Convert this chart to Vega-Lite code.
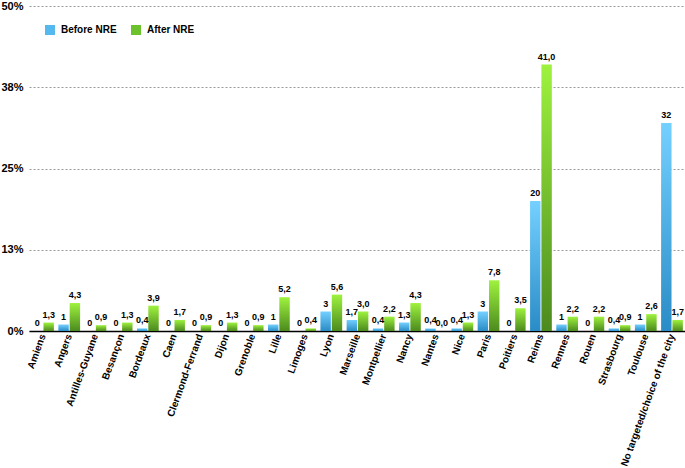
{
  "$schema": "https://vega.github.io/schema/vega-lite/v6.json",
  "width": 657,
  "height": 325,
  "padding": {"left": 0, "top": 0, "right": 0, "bottom": 0},
  "background": "white",
  "config": {
    "locale": {"number": {"decimal": ",", "thousands": " ", "grouping": [3], "currency": ["", " €"]}},
    "view": {"stroke": null},
    "font": "Liberation Sans"
  },
  "data": {"values": [
    {"city": "Amiens", "series": "Before NRE", "value": 0}, {"city": "Amiens", "series": "After NRE", "value": 1.3},
    {"city": "Angers", "series": "Before NRE", "value": 1}, {"city": "Angers", "series": "After NRE", "value": 4.3},
    {"city": "Antilles-Guyane", "series": "Before NRE", "value": 0}, {"city": "Antilles-Guyane", "series": "After NRE", "value": 0.9},
    {"city": "Besançon", "series": "Before NRE", "value": 0}, {"city": "Besançon", "series": "After NRE", "value": 1.3},
    {"city": "Bordeaux", "series": "Before NRE", "value": 0.4}, {"city": "Bordeaux", "series": "After NRE", "value": 3.9},
    {"city": "Caen", "series": "Before NRE", "value": 0}, {"city": "Caen", "series": "After NRE", "value": 1.7},
    {"city": "Clermond-Ferrand", "series": "Before NRE", "value": 0}, {"city": "Clermond-Ferrand", "series": "After NRE", "value": 0.9},
    {"city": "Dijon", "series": "Before NRE", "value": 0}, {"city": "Dijon", "series": "After NRE", "value": 1.3},
    {"city": "Grenoble", "series": "Before NRE", "value": 0}, {"city": "Grenoble", "series": "After NRE", "value": 0.9},
    {"city": "Lille", "series": "Before NRE", "value": 1}, {"city": "Lille", "series": "After NRE", "value": 5.2},
    {"city": "Limoges", "series": "Before NRE", "value": 0}, {"city": "Limoges", "series": "After NRE", "value": 0.4},
    {"city": "Lyon", "series": "Before NRE", "value": 3}, {"city": "Lyon", "series": "After NRE", "value": 5.6},
    {"city": "Marseille", "series": "Before NRE", "value": 1.7}, {"city": "Marseille", "series": "After NRE", "value": 3.0},
    {"city": "Montpellier", "series": "Before NRE", "value": 0.4}, {"city": "Montpellier", "series": "After NRE", "value": 2.2},
    {"city": "Nancy", "series": "Before NRE", "value": 1.3}, {"city": "Nancy", "series": "After NRE", "value": 4.3},
    {"city": "Nantes", "series": "Before NRE", "value": 0.4}, {"city": "Nantes", "series": "After NRE", "value": 0.0},
    {"city": "Nice", "series": "Before NRE", "value": 0.4}, {"city": "Nice", "series": "After NRE", "value": 1.3},
    {"city": "Paris", "series": "Before NRE", "value": 3}, {"city": "Paris", "series": "After NRE", "value": 7.8},
    {"city": "Poitiers", "series": "Before NRE", "value": 0}, {"city": "Poitiers", "series": "After NRE", "value": 3.5},
    {"city": "Reims", "series": "Before NRE", "value": 20}, {"city": "Reims", "series": "After NRE", "value": 41.0},
    {"city": "Rennes", "series": "Before NRE", "value": 1}, {"city": "Rennes", "series": "After NRE", "value": 2.2},
    {"city": "Rouen", "series": "Before NRE", "value": 0}, {"city": "Rouen", "series": "After NRE", "value": 2.2},
    {"city": "Strasbourg", "series": "Before NRE", "value": 0.4}, {"city": "Strasbourg", "series": "After NRE", "value": 0.9},
    {"city": "Toulouse", "series": "Before NRE", "value": 1}, {"city": "Toulouse", "series": "After NRE", "value": 2.6},
    {"city": "No targeted/choice of the city", "series": "Before NRE", "value": 32}, {"city": "No targeted/choice of the city", "series": "After NRE", "value": 1.7}
  ]},
  "encoding": {
    "x": {
      "field": "city", "type": "nominal", "sort": null,
      "scale": {"paddingInner": 0.17, "paddingOuter": 0.12},
      "axis": {
        "title": null, "labelAngle": -70, "labelFontSize": 10, "labelFontWeight": "bold",
        "labelColor": "#000", "ticks": false, "labelPadding": 3,
        "domainColor": "#000", "domainWidth": 1.5, "grid": false
      }
    },
    "xOffset": {"field": "series", "type": "nominal", "scale": {"domain": ["Before NRE", "After NRE"], "paddingInner": 0.08}},
    "y": {
      "field": "value", "type": "quantitative",
      "scale": {"domain": [0, 50]},
      "axis": {
        "title": null, "values": [0, 12.5, 25, 37.5, 50], "labelExpr": "round(datum.value) + '%'",
        "labelFontSize": 11, "labelFontWeight": "bold", "labelColor": "#000",
        "domain": false, "ticks": false, "labelPadding": 6,
        "gridColor": "#9a9a9a", "gridDash": [2, 2], "gridWidth": 1
      }
    }
  },
  "layer": [
    {
      "mark": {"type": "bar"},
      "encoding": {
        "color": {
          "condition": {
            "test": "datum.series === 'Before NRE'",
            "value": {"gradient": "linear", "x1": 0, "y1": 0, "x2": 0, "y2": 1,
              "stops": [{"offset": 0, "color": "#74D0FF"}, {"offset": 1, "color": "#2A8CC6"}]}
          },
          "value": {"gradient": "linear", "x1": 0, "y1": 0, "x2": 0, "y2": 1,
            "stops": [{"offset": 0, "color": "#9EF23E"}, {"offset": 1, "color": "#4C8A1E"}]}
        }
      }
    },
    {
      "mark": {"type": "square", "opacity": 0},
      "encoding": {
        "color": {
          "field": "series", "type": "nominal",
          "scale": {"domain": ["Before NRE", "After NRE"], "range": ["#55B8EE", "#6CC22C"]},
          "legend": {
            "title": null, "orient": "none", "direction": "horizontal", "legendX": 16, "legendY": 19,
            "symbolType": "square", "symbolSize": 100, "symbolOpacity": 1, "symbolStrokeWidth": 0,
            "labelFontSize": 10, "labelFontWeight": "bold", "labelColor": "#000",
            "labelOffset": 6, "columnPadding": 14, "padding": 0
          }
        }
      }
    },
    {
      "transform": [{"filter": "datum.series === 'Before NRE'"}],
      "mark": {"type": "text", "baseline": "bottom", "dy": -3, "fontSize": 9, "fontWeight": "bold", "color": "#000"},
      "encoding": {"text": {"field": "value", "type": "quantitative", "format": "~g"}}
    },
    {
      "transform": [{"filter": "datum.series === 'After NRE'"}],
      "mark": {"type": "text", "baseline": "bottom", "dy": -3, "fontSize": 9, "fontWeight": "bold", "color": "#000"},
      "encoding": {"text": {"field": "value", "type": "quantitative", "format": ".1f"}}
    }
  ]
}
